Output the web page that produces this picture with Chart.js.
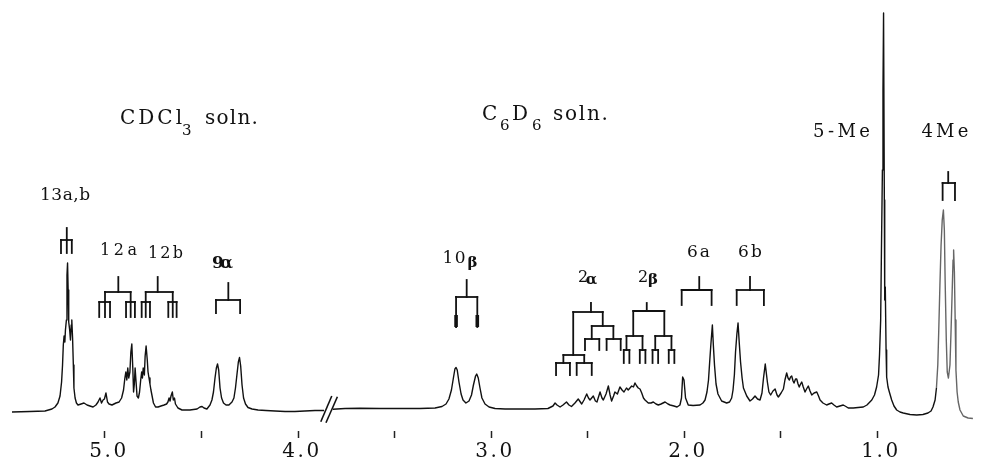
<!DOCTYPE html>
<html><head><meta charset="utf-8">
<script src="https://cdn.jsdelivr.net/npm/chart.js@4.4.1/dist/chart.umd.min.js"></script>
<style>html,body{margin:0;padding:0;background:#fff;}</style>
</head><body>
<canvas id="c" width="982" height="463"></canvas>
<script>
// ---- Spectrum data: chemical shift (ppm) and intensity (arbitrary units, baseline = 0)
const cdcl3Ppm = [5.482,5.389,5.311,5.275,5.259,5.244,5.233,5.225,5.220,5.216,5.212,5.208,5.205,5.200,5.197,5.194,5.191,5.188,5.183,5.179,5.175,5.172,5.168,5.164,5.161,5.155,5.148,5.140,5.124,5.109,5.093,5.078,5.062,5.047,5.036,5.026,5.018,5.010,5.003,4.995,4.987,4.979,4.964,4.943,4.927,4.914,4.904,4.897,4.892,4.887,4.882,4.877,4.871,4.866,4.861,4.856,4.852,4.848,4.844,4.839,4.834,4.827,4.821,4.815,4.810,4.806,4.802,4.796,4.792,4.787,4.781,4.777,4.772,4.767,4.762,4.756,4.749,4.738,4.725,4.710,4.694,4.681,4.674,4.668,4.663,4.658,4.651,4.646,4.640,4.635,4.622,4.601,4.560,4.523,4.508,4.497,4.487,4.472,4.456,4.446,4.438,4.430,4.423,4.417,4.411,4.404,4.396,4.386,4.373,4.358,4.342,4.332,4.324,4.316,4.309,4.303,4.297,4.290,4.282,4.272,4.259,4.238,4.207,4.166,4.119,4.067,4.016,3.964,3.912,3.865];
const cdcl3Int = [-2,-1.5,-1,1,3,7,14,28,45,65,74,68,80,90,135,147,120,88,80,70,85,90,72,45,22,12,7,5,6,7,5,4,3,5,8,12,7,10,11,17,8,6,5,7,8,12,20,32,38,30,42,32,38,58,66,42,18,26,42,28,14,12,18,30,38,32,42,35,54,64,50,38,32,26,20,14,7,3,3,4,5,6,8,12,9,14,18,10,12,6,2,0,0,1,3,3.5,2,1,5,10,18,32,42,46,40,22,12,7,5,5,8,12,22,36,48,52.5,44,25,12,6,2.5,1,0,-0.5,-1,-1.5,-1.5,-1,-0.5,-0.5];

const c6d6Ppm = [3.819,3.756,3.679,3.575,3.472,3.368,3.290,3.254,3.233,3.218,3.205,3.194,3.187,3.181,3.175,3.166,3.155,3.145,3.130,3.114,3.101,3.091,3.080,3.074,3.066,3.057,3.047,3.031,3.010,2.979,2.927,2.850,2.772,2.705,2.679,2.668,2.658,2.642,2.627,2.609,2.596,2.583,2.565,2.548,2.530,2.518,2.504,2.495,2.487,2.470,2.459,2.451,2.435,2.425,2.418,2.404,2.392,2.383,2.375,2.365,2.358,2.345,2.332,2.321,2.311,2.298,2.289,2.271,2.262,2.254,2.245,2.237,2.228,2.219,2.210,2.202,2.185,2.171,2.159,2.145,2.133,2.119,2.098,2.083,2.072,2.052,2.036,2.021,2.013,2.007,2.000,1.992,1.978,1.953,1.917,1.902,1.891,1.881,1.873,1.867,1.861,1.853,1.848,1.842,1.834,1.824,1.805,1.779,1.764,1.753,1.746,1.739,1.733,1.726,1.720,1.714,1.707,1.699,1.692,1.675,1.658,1.645,1.632,1.619,1.606,1.596,1.588,1.579,1.568,1.560,1.551,1.539,1.528,1.518,1.511,1.497,1.485,1.477,1.468,1.461,1.454,1.448,1.442,1.435,1.430,1.422,1.416,1.409,1.403,1.396,1.390,1.382,1.373,1.365,1.356,1.347,1.338,1.326,1.312,1.303,1.295,1.280,1.261,1.249,1.235,1.223,1.209,1.192,1.175,1.161,1.149,1.123,1.098,1.071,1.052,1.027,1.013,1.002,0.992,0.987,0.981,0.977,0.972,0.969,0.966,0.962,0.960,0.957,0.953,0.950,0.943,0.936,0.924,0.912,0.898,0.881,0.864,0.829,0.794,0.762,0.736,0.720,0.710,0.699,0.692,0.685,0.680,0.674,0.668,0.662,0.656,0.651,0.647,0.641,0.636,0.630,0.622,0.617,0.611,0.606,0.603,0.599,0.595,0.591,0.585,0.579,0.570,0.553,0.528,0.503];
const c6d6Int = [0.7,1.5,1.7,1.5,1.5,1.5,2,3.5,6,11,20,33,41,42.5,40,28,16,10,7,9,15,25,34,36,32,22,12,6,3,1.5,1,1,1,1.5,4,7,5,3,5,8,5,3.5,7,11,6,10,16,12,10,14,9,8,18,12,10,16,24,15,9,14,18,16,23,20,18,22,20,24,23,27,24,22,21,17,12,10,7,7,8,6,5,6,8,6,5,4,3,5,12,33,30,12,5,4.5,5,7,10,18,30,48,65,85,65,45,26,16,9,7,8,12,20,35,58,76,87,68,48,32,22,14,9,11,14,11,10,17,32,46,28,18,15,19,21,15,13,17,21,30,37,32,30,33,34,29,27,31,31,26,23,26,28,23,18,21,24,19,15,17,18,14,10,7,5,6,7,5,3,4,5,3.5,2,2,2.5,3,5,10,15,23,35,55,90,160,240,320,397,210,110,123,60,33,23,18,10,4,0,-2,-3,-4.5,-5,-4.5,-3,-1,3,10,22,45,80,125,165,190,200,180,130,70,38,32,45,75,115,150,160,138,90,40,18,8,0,-6,-8,-8.5];

// ---- Axis ticks (ppm) and their printed labels
const tickValues = [5, 4, 3, 2, 1];
const tickLabels = ['5.0', '4.0', '3.0', '2.0', '1.0'];

// ---- Multiplet splitting diagrams: [ppm, level, children, thickFrom]
const splitTrees = [
  {top:182, node:[5.198,170,[[5.228,157],[5.198,157],[5.172,157]]]},
  {top:133, node:[4.931,118,[[5.000,108,[[5.030,93],[5.000,93],[4.974,93]]],[4.867,108,[[4.891,93],[4.867,93],[4.845,93]]]]]},
  {top:133, node:[4.727,118,[[4.789,108,[[4.810,93],[4.789,93],[4.767,93]]],[4.649,108,[[4.672,93],[4.649,93],[4.629,93]]]]]},
  {top:127, node:[4.361,110,[[4.425,97],[4.300,97]]]},
  {top:130, node:[3.126,113,[[3.181,83,null,95],[3.071,83,null,95]]]},
  {top:107, node:[2.482,98,[
     [2.574,55,[[2.625,47,[[2.663,35],[2.591,35]]],[2.517,47,[[2.556,35],[2.478,35]]]]],
     [2.421,84,[[2.478,71,[[2.513,60],[2.439,60]]],[2.366,71,[[2.401,60],[2.328,60]]]]]]]},
  {top:107, node:[2.193,99,[
     [2.263,74,[[2.298,60,[[2.312,47],[2.283,47]]],[2.215,60,[[2.229,47],[2.200,47]]]]],
     [2.102,74,[[2.149,60,[[2.163,47],[2.134,47]]],[2.065,60,[[2.079,47],[2.050,47]]]]]]]},
  {top:133, node:[1.921,120,[[2.012,105],[1.857,105]]]},
  {top:133, node:[1.658,120,[[1.727,105],[1.586,105]]]},
  {top:238, node:[0.631,227,[[0.660,210],[0.596,210]]]}
];

// ---- Text annotations (ppm, intensity baseline)
const peakLabels = [
  {t:'13a,b', x:5.207, y:210, size:17, w:50},
  {t:'12a', x:4.930, y:155, size:16, w:37},
  {t:'12b', x:4.687, y:152, size:16, w:35},
  {t:'9α', x:4.391, y:142, size:17, w:21, bold:true},
  {t:'10', x:3.192, y:147, size:17, w:23},
  {t:'β', x:3.096, y:143, size:15, bold:true},
  {t:'2', x:2.523, y:128, size:16},
  {t:'α', x:2.479, y:126, size:15, bold:true},
  {t:'2', x:2.212, y:128, size:16},
  {t:'β', x:2.161, y:126, size:15, bold:true},
  {t:'6a', x:1.925, y:153, size:17, w:23},
  {t:'6b', x:1.658, y:153, size:17, w:24},
  {t:'5-Me', x:1.184, y:273, size:18, w:57},
  {t:'4Me', x:0.648, y:273, size:18, w:47},
  {t:'CDCl', x:4.922, y:286, size:20, w:62, left:true},
  {t:'3', x:4.601, y:275, size:15, left:true},
  {t:'soln.', x:4.482, y:286, size:20, w:53, left:true},
  {t:'C', x:3.047, y:290, size:20, left:true},
  {t:'6', x:2.953, y:280, size:15, left:true},
  {t:'D', x:2.891, y:290, size:20, left:true},
  {t:'6', x:2.788, y:280, size:15, left:true},
  {t:'soln.', x:2.679, y:290, size:20, w:55, left:true}
];
// axis-break marks "//" (ppm, intensity)
const breakMarks = [[3.882,-11.7,3.825,14],[3.855,-12.7,3.796,13.3]];

const annotPlugin = {
  id: 'annot',
  beforeDraw(chart){ chart.ctx.letterSpacing = '2.5px'; },
  afterDatasetsDraw(chart){
    const ctx = chart.ctx, xs = chart.scales.x, ys = chart.scales.y;
    const X = v => xs.getPixelForValue(v), Y = v => ys.getPixelForValue(v);
    ctx.save();
    ctx.letterSpacing = '0px';
    ctx.strokeStyle = '#111';
    ctx.lineCap = 'square';
    const line = (a,b,c,d) => { ctx.beginPath(); ctx.moveTo(a,b); ctx.lineTo(c,d); ctx.stroke(); };
    const drawNode = (n, top) => {
      const px = X(n[0]);
      ctx.lineWidth = 1.8;
      line(px, Y(top), px, Y(n[1]));
      if (n[3] != null) { ctx.lineWidth = 3.6; ctx.lineCap='butt'; line(px, Y(n[3]), px, Y(n[1])); ctx.lineCap='square'; ctx.lineWidth = 1.8; }
      if (n[2]) {
        const kx = n[2].map(k => X(k[0]));
        line(Math.min(...kx), Y(n[1]), Math.max(...kx), Y(n[1]));
        n[2].forEach(k => drawNode(k, n[1]));
      }
    };
    splitTrees.forEach(t => drawNode(t.node, t.top));
    ctx.lineWidth = 1.6; ctx.lineCap = 'butt';
    breakMarks.forEach(m => line(X(m[0]), Y(m[1]), X(m[2]), Y(m[3])));
    ctx.fillStyle = '#111';
    ctx.textAlign = 'left'; ctx.textBaseline = 'alphabetic';
    peakLabels.forEach(o => {
      ctx.font = (o.bold ? 'bold ' : '') + o.size + 'px "DejaVu Serif"';
      ctx.letterSpacing = '0px';
      const nat = ctx.measureText(o.t).width;
      const n = [...o.t].length;
      let ls = 0;
      if (o.w && n > 1) ls = (o.w - nat) / (n - 1);
      ctx.letterSpacing = ls + 'px';
      const total = nat + ls * (n - 1);
      const left = o.left ? X(o.x) : X(o.x) - total / 2;
      ctx.fillText(o.t, left, Y(o.y));
    });
    ctx.restore();
  },
  afterDraw(chart){ chart.ctx.letterSpacing = '0px'; }
};

const toPts = (xa, ya) => xa.map((x, i) => ({x, y: ya[i]}));

new Chart(document.getElementById('c'), {
  type: 'line',
  data: {
    datasets: [
      {label:'CDCl3 soln.', data: toPts(cdcl3Ppm, cdcl3Int), borderColor:'#111', borderWidth:1.4, pointRadius:0, tension:0, borderJoinStyle:'round'},
      {label:'C6D6 soln.', data: toPts(c6d6Ppm, c6d6Int), borderColor:'#111', borderWidth:1.4, pointRadius:0, tension:0, borderJoinStyle:'round',
        segment:{ borderColor: c => (c.p0.parsed.x < 0.695 ? '#666' : '#111') }}
    ]
  },
  options: {
    responsive: false,
    animation: false,
    layout: { padding: { left: 8.5, right: 8.5, top: 10, bottom: 0 } },
    plugins: { legend: { display: false }, tooltip: { enabled: false } },
    scales: {
      x: {
        type: 'linear', reverse: true, min: 0.5, max: 5.5,
        border: { display: false },
        grid: { display: true, drawOnChartArea: false, drawTicks: true, tickLength: 7, tickWidth: 1.5,
          tickColor: c => (c.tick && (Math.abs(c.tick.value - 0.5) < 1e-6 || Math.abs(c.tick.value - 5.5) < 1e-6)) ? 'rgba(0,0,0,0)' : '#222' },
        ticks: { stepSize: 0.5, autoSkip: false, maxRotation: 0, padding: 2, labelOffset: 4, color: '#111',
          font: { family: '"DejaVu Serif"', size: 20 },
          callback: v => { const i = tickValues.findIndex(t => Math.abs(t - v) < 1e-6); return i >= 0 ? tickLabels[i] : ''; } },
        afterFit: s => { s.height = 32; }
      },
      y: { type: 'linear', display: false, min: -21, max: 400 }
    }
  },
  plugins: [annotPlugin]
});
</script>
</body></html>
